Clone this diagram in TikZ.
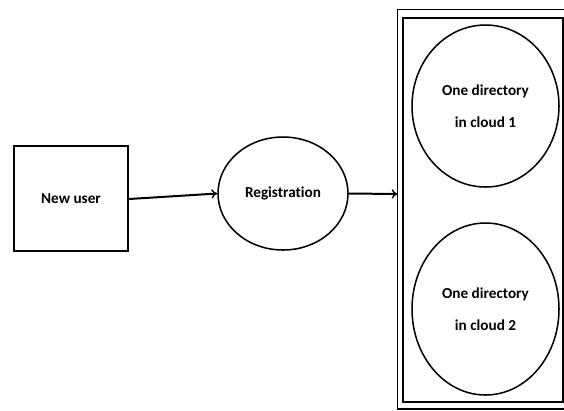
\documentclass[tikz,border=0pt]{standalone}
\usepackage{fontspec}
\setmainfont{Carlito}[Ligatures={NoCommon}]
\usetikzlibrary{arrows.meta,shapes.geometric}
\begin{document}
\begin{tikzpicture}[x=0.03cm,y=-0.03cm,
  every node/.style={font=\bfseries\fontsize{13}{15}\selectfont, inner sep=0pt},
  blockbox/.style={draw, line width=1.8pt, minimum width=114*0.03cm, minimum height=105*0.03cm},
  oval/.style={draw, ellipse, line width=1.3pt},
  flow/.style={line width=1.7pt, -{To[length=5pt,width=8pt,line width=1.2pt]}},
  frame/.style={draw, line width=1.6pt}]
  \useasboundingbox (0,0) rectangle (564,410);
  \clip (0,0) rectangle (564,410);

  % source and registration step
  \node[blockbox] (user) at (71,198.5) {New user};
  \node[oval, minimum width=130*0.03cm, minimum height=113*0.03cm] (reg) at (283,193.5) {Registration};

  % double-lined container for the cloud directories
  \draw[frame] (397.5,9.5) rectangle (575,409);
  \draw[frame] (403,18) rectangle (563,402);
  \coordinate (store) at (397.5,194);

  \node[oval, minimum width=147*0.03cm, minimum height=162*0.03cm, align=center] (dir1) at (485.5,106)
    {One directory\\[12pt]in cloud 1};
  \node[oval, minimum width=147*0.03cm, minimum height=172*0.03cm, align=center] (dir2) at (485.5,309)
    {One directory\\[12pt]in cloud 2};

  % connectors
  \draw[flow] (user.east) ++(0,0.5) -- (reg.west);
  \draw[flow] (reg.east) -- (store);
\end{tikzpicture}
\end{document}
